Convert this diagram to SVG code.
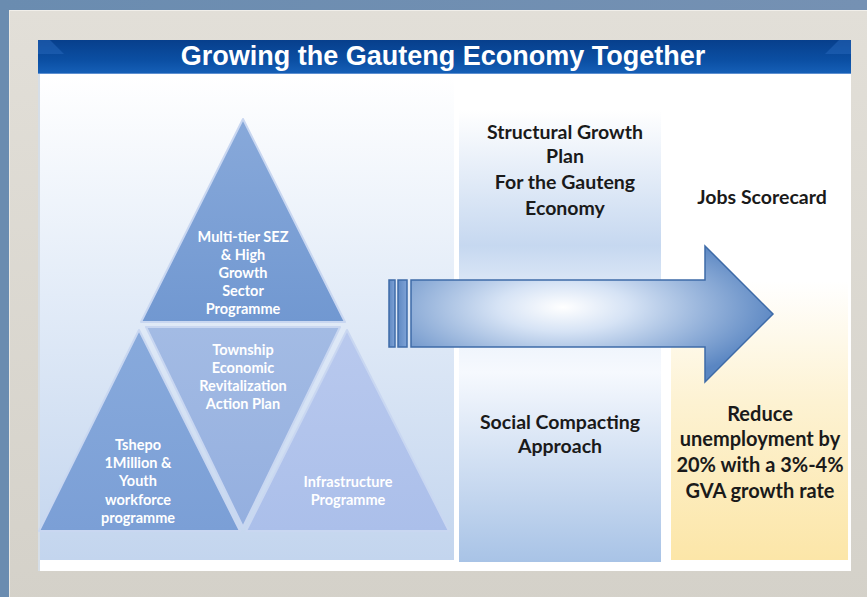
<svg xmlns="http://www.w3.org/2000/svg" width="867" height="597" viewBox="0 0 867 597">
  <defs>
    <linearGradient id="bgBlue" x1="0" y1="0" x2="1" y2="0">
      <stop offset="0" stop-color="#6a8cb0"/>
      <stop offset="1" stop-color="#7591b3"/>
    </linearGradient>
    <linearGradient id="frame" x1="0" y1="0" x2="0" y2="1">
      <stop offset="0" stop-color="#e2dfd8"/>
      <stop offset="1" stop-color="#d4d1c9"/>
    </linearGradient>
    <linearGradient id="titleBar" x1="0" y1="0" x2="0" y2="1">
      <stop offset="0" stop-color="#073f8c"/>
      <stop offset="0.6" stop-color="#0b4fa3"/>
      <stop offset="1" stop-color="#1660b8"/>
    </linearGradient>
    <linearGradient id="leftPanel" x1="0" y1="0" x2="0" y2="1">
      <stop offset="0" stop-color="#ffffff"/>
      <stop offset="0.45" stop-color="#e3ecf8"/>
      <stop offset="1" stop-color="#c3d5ee"/>
    </linearGradient>
    <linearGradient id="midCol" x1="0" y1="0" x2="0" y2="1">
      <stop offset="0" stop-color="#ffffff"/>
      <stop offset="0.3" stop-color="#c6d8f0"/>
      <stop offset="0.42" stop-color="#e4edf9"/>
      <stop offset="0.58" stop-color="#f6f9fe"/>
      <stop offset="1" stop-color="#a8c3e6"/>
    </linearGradient>
    <linearGradient id="rightCol" x1="0" y1="0" x2="0" y2="1">
      <stop offset="0" stop-color="#ffffff"/>
      <stop offset="0.38" stop-color="#ffffff"/>
      <stop offset="0.65" stop-color="#fdf2d2"/>
      <stop offset="1" stop-color="#fce6a8"/>
    </linearGradient>
    <radialGradient id="arrowFill" cx="0.42" cy="0.45" r="0.6">
      <stop offset="0" stop-color="#ffffff"/>
      <stop offset="0.3" stop-color="#d6e3f5"/>
      <stop offset="1" stop-color="#5a86c2"/>
    </radialGradient>
    <linearGradient id="barFill" x1="0" y1="0" x2="1" y2="0">
      <stop offset="0" stop-color="#5f89c3"/>
      <stop offset="1" stop-color="#7ea2d6"/>
    </linearGradient>
    <linearGradient id="triTop" x1="0" y1="0" x2="0" y2="1">
      <stop offset="0" stop-color="#88a9da"/>
      <stop offset="1" stop-color="#7198d1"/>
    </linearGradient>
    <linearGradient id="triLeft" x1="0" y1="0" x2="0" y2="1">
      <stop offset="0" stop-color="#88aadc"/>
      <stop offset="1" stop-color="#7b9fd6"/>
    </linearGradient>
    <linearGradient id="triMid" x1="0" y1="0" x2="0" y2="1">
      <stop offset="0" stop-color="#a3bbe4"/>
      <stop offset="1" stop-color="#94afdf"/>
    </linearGradient>
    <linearGradient id="triRight" x1="0" y1="0" x2="0" y2="1">
      <stop offset="0" stop-color="#b9c9ee"/>
      <stop offset="1" stop-color="#abbfea"/>
    </linearGradient>
  </defs>
  <style>
    .tri { stroke: #c9d7f1; stroke-width: 2; stroke-linejoin: round; }
    .tlabel { font-family: Lato, "Open Sans", sans-serif; font-size: 14.5px; font-weight: bold; fill: #ffffff; text-anchor: middle; }
    .dlabel { font-family: Lato, "Open Sans", sans-serif; font-size: 19.5px; font-weight: bold; fill: #1a1a1a; text-anchor: middle; }
    .big { font-size: 20px; }
    .title { font-family: "Liberation Sans", Arial, sans-serif; font-size: 27px; font-weight: bold; fill: #ffffff; text-anchor: middle; }
    .arrowpart { stroke: #3e6ba8; stroke-width: 1.5; }
  </style>

  <!-- backdrop -->
  <rect x="0" y="0" width="867" height="597" fill="url(#bgBlue)"/>
  <rect x="9" y="10" width="870" height="600" fill="url(#frame)"/>
  <line x1="9" y1="10.5" x2="867" y2="10.5" stroke="#f1efea" stroke-width="1"/>
  <line x1="9.5" y1="10" x2="9.5" y2="597" stroke="#eceae4" stroke-width="1"/>

  <!-- slide -->
  <rect x="38" y="40" width="813" height="531" fill="#ffffff"/>
  <line x1="39" y1="74" x2="39" y2="571" stroke="#c9d3df" stroke-width="1.5"/>

  <!-- title bar -->
  <g id="title">
    <rect x="38" y="40" width="813" height="34" fill="url(#titleBar)"/>
    <polygon points="38,40 50,40 64,54 38,54" fill="#2d6cc0" opacity="0.45"/>
    <polygon points="851,40 839,40 825,54 851,54" fill="#2d6cc0" opacity="0.45"/>
    <line x1="38" y1="73.5" x2="851" y2="73.5" stroke="#5d8fd0" stroke-width="1"/>
    <text class="title" x="443" y="65">Growing the Gauteng Economy Together</text>
  </g>

  <!-- panels -->
  <g id="panel-left">
    <rect x="40" y="76" width="414" height="484" fill="url(#leftPanel)"/>
  </g>
  <g id="panel-structural">
    <rect x="459" y="110" width="202" height="452" fill="url(#midCol)"/>
    <text class="dlabel" x="565" y="139">Structural Growth</text>
    <text class="dlabel" x="565" y="163">Plan</text>
    <text class="dlabel" x="565" y="189">For the Gauteng</text>
    <text class="dlabel" x="565" y="215">Economy</text>
    <text class="dlabel" x="560" y="429">Social Compacting</text>
    <text class="dlabel" x="560" y="453">Approach</text>
  </g>
  <g id="panel-jobs">
    <rect x="671" y="110" width="177" height="450" fill="url(#rightCol)"/>
    <text class="dlabel" x="762" y="204">Jobs Scorecard</text>
    <text class="dlabel big" x="760" y="421">Reduce</text>
    <text class="dlabel big" x="760" y="446">unemployment by</text>
    <text class="dlabel big" x="760" y="472">20% with a 3%-4%</text>
    <text class="dlabel big" x="760" y="498">GVA growth rate</text>
  </g>

  <!-- pyramid -->
  <g id="tri-sez">
    <polygon class="tri" points="243,119 345,322 141,322" fill="url(#triTop)"/>
    <text class="tlabel" x="243" y="242">Multi-tier SEZ</text>
    <text class="tlabel" x="243" y="260">&amp; High</text>
    <text class="tlabel" x="243" y="278">Growth</text>
    <text class="tlabel" x="243" y="296">Sector</text>
    <text class="tlabel" x="243" y="314">Programme</text>
  </g>
  <g id="tri-township">
    <polygon class="tri" points="146,327 340,327 243,527" fill="url(#triMid)"/>
    <text class="tlabel" x="243" y="355">Township</text>
    <text class="tlabel" x="243" y="373">Economic</text>
    <text class="tlabel" x="243" y="391">Revitalization</text>
    <text class="tlabel" x="243" y="409">Action Plan</text>
  </g>
  <g id="tri-tshepo">
    <polygon class="tri" points="139,330 240,531 39,531" fill="url(#triLeft)"/>
    <text class="tlabel" x="138" y="450">Tshepo</text>
    <text class="tlabel" x="138" y="468">1Million &amp;</text>
    <text class="tlabel" x="138" y="486">Youth</text>
    <text class="tlabel" x="138" y="505">workforce</text>
    <text class="tlabel" x="138" y="523">programme</text>
  </g>
  <g id="tri-infra">
    <polygon class="tri" points="347,330 449,531 246,531" fill="url(#triRight)"/>
    <text class="tlabel" x="348" y="487">Infrastructure</text>
    <text class="tlabel" x="348" y="505">Programme</text>
  </g>

  <!-- connector -->
  <g id="connectors">
    <rect class="arrowpart" x="389" y="280" width="6" height="67" fill="url(#barFill)"/>
    <rect class="arrowpart" x="398" y="280" width="9" height="67" fill="url(#barFill)"/>
    <path class="arrowpart" d="M411,280 L705,280 L705,246 L773,314 L705,382 L705,347 L411,347 Z" fill="url(#arrowFill)"/>
  </g>
</svg>
